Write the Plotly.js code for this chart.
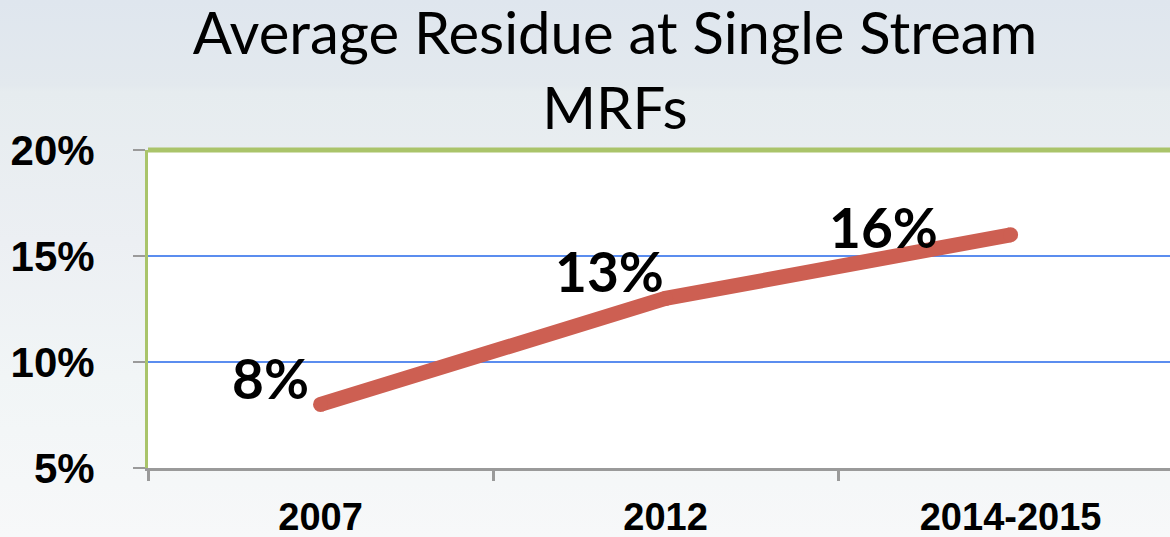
<!DOCTYPE html>
<html>
<head>
<meta charset="utf-8">
<script src="https://cdn.plot.ly/plotly-3.0.1.min.js"></script>
<style>
  html, body { margin: 0; padding: 0; }
  body {
    width: 1170px; height: 537px; overflow: hidden;
    background: linear-gradient(to bottom, #dfe6ee 0%, #e3e9ee 16%, #e6ecef 17%, #eceff3 45%, #f1f5f6 70%, #f7f8f9 100%);
  }
</style>
</head>
<body>
<div id="chart" style="width:1170px;height:537px;"></div>
<script>
// chart data
let years = ["2007", "2012", "2014-2015"];
let residue = [8, 13, 16];
let labels = ["8%", "13%", "16%"];

// label nudges (px) so the numbers sit where the slide had them
let labelShiftX = [-50, -56, -127];
let labelShiftY = [26, 27, 8];

let lineColor = '#cd5f52';

let trace = {
    x: years,
    y: residue,
    mode: 'lines+markers',
    type: 'scatter',
    line: { color: lineColor, width: 15 },
    marker: { color: lineColor, size: 15 },
    hoverinfo: 'x+y',
    cliponaxis: false
};

// category index is used for x, a year string would be read as a number
let annotations = years.map((yr, i) => ({
    x: i,
    y: residue[i],
    xref: 'x',
    yref: 'y',
    text: labels[i],
    showarrow: false,
    xshift: labelShiftX[i],
    yshift: labelShiftY[i],
    font: { family: 'Lato', size: 55, color: '#000', weight: 'bold' }
}));

let layout = {
    width: 1170,
    height: 537,
    paper_bgcolor: 'rgba(0,0,0,0)',
    plot_bgcolor: '#ffffff',
    margin: { l: 148, r: 0, t: 150, b: 69 },
    title: {
        text: 'Average Residue at Single Stream<br>MRFs',
        font: { family: 'Lato', size: 58, color: '#000' },
        x: 615 / 1170,
        xanchor: 'center',
        y: 0.9,
        yanchor: 'top'
    },
    xaxis: {
        type: 'category',
        range: [-0.5, 2.462],
        tickson: 'boundaries',
        ticks: 'outside',
        ticklen: 10,
        tickwidth: 3,
        tickcolor: '#9a9a9a',
        showline: true,
        linecolor: '#9a9a9a',
        linewidth: 3,
        showgrid: false,
        tickfont: { family: 'Liberation Sans', size: 38, color: '#000', weight: 'bold' },
        ticklabelstandoff: 13,
        fixedrange: true
    },
    yaxis: {
        range: [5, 20],
        tickvals: [5, 10, 15, 20],
        ticktext: ['5%', '10%', '15%', '20%'],
        ticks: 'outside',
        ticklen: 12,
        tickwidth: 2,
        tickcolor: '#9a9a9a',
        showline: true,
        linecolor: '#a9c46a',
        linewidth: 3,
        showgrid: true,
        gridcolor: '#5b8def',
        gridwidth: 1.5,
        zeroline: false,
        tickfont: { family: 'Liberation Sans', size: 42, color: '#000', weight: 'bold' },
        ticklabelstandoff: 30,
        fixedrange: true
    },
    shapes: [
        {
            type: 'line',
            xref: 'paper', yref: 'paper',
            x0: 0, x1: 1, y0: 1, y1: 1,
            line: { color: '#aac46a', width: 5 },
            layer: 'above'
        }
    ],
    annotations: annotations,
    showlegend: false,
    hovermode: 'closest'
};

Plotly.newPlot('chart', [trace], layout, {
    displayModeBar: false,
    responsive: false
});
</script>
</body>
</html>
